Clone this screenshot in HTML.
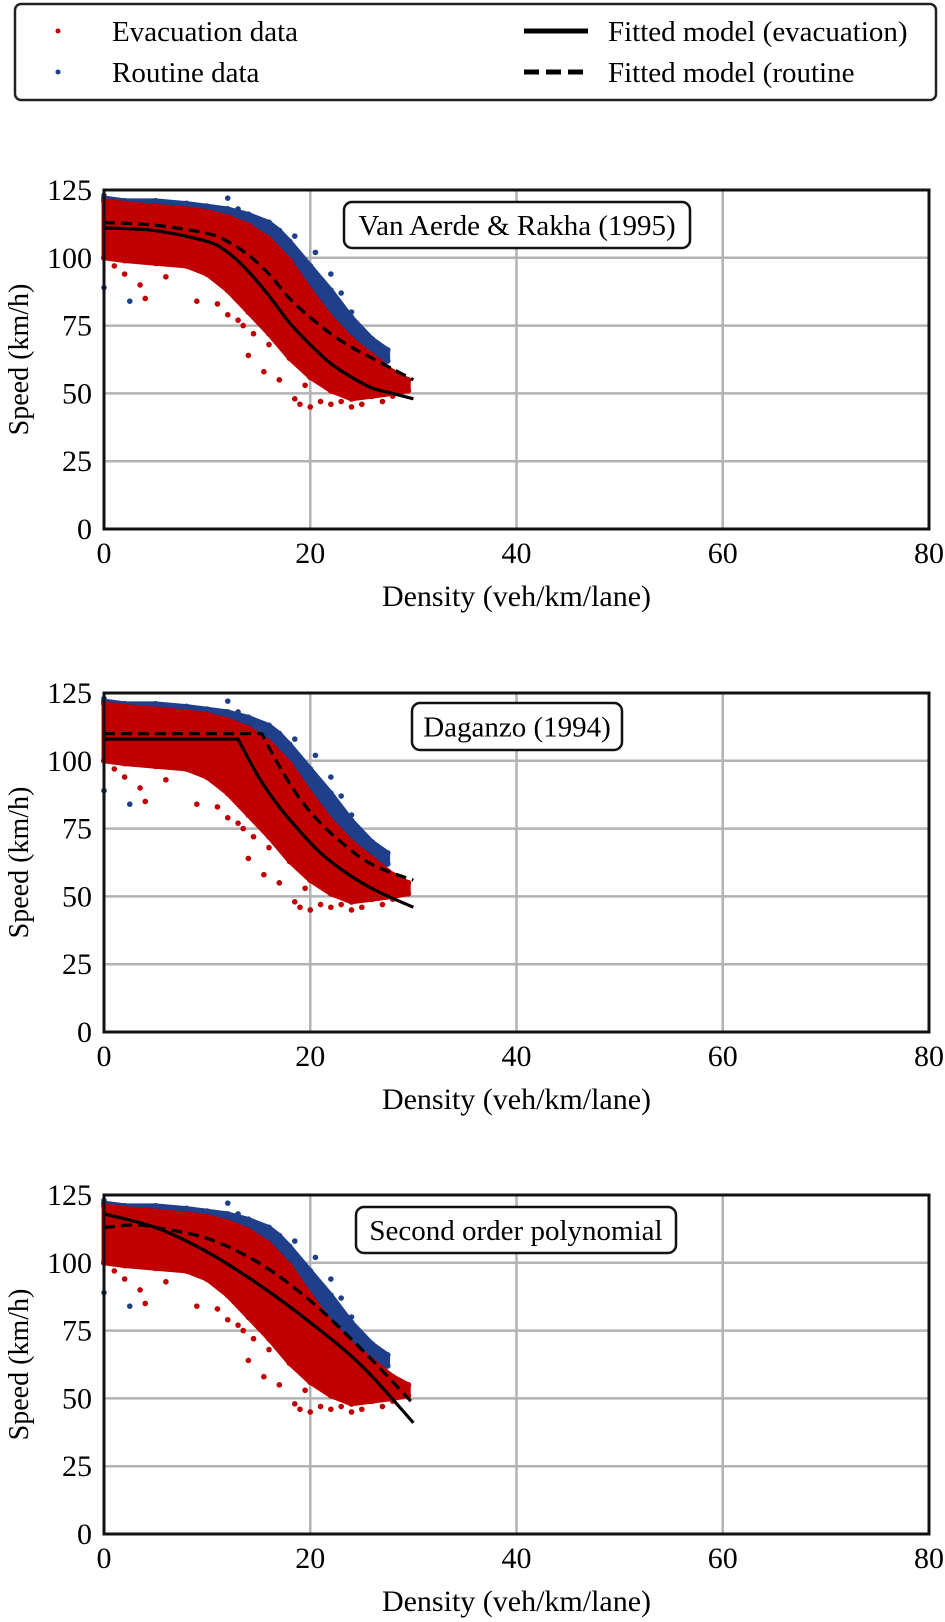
<!DOCTYPE html>
<html><head><meta charset="utf-8"><style>
html,body{margin:0;padding:0;background:#fff;}
svg{display:block;font-family:"Liberation Serif",serif;}
</style></head><body>
<svg id="fig" width="945" height="1622" viewBox="0 0 945 1622">
<g>
<rect x="15" y="4" width="921" height="96" rx="6" fill="#fff" stroke="#222" stroke-width="2.5"/>
<circle cx="58" cy="31" r="2.5" fill="#c00000"/>
<text x="112" y="41" font-size="29">Evacuation data</text>
<circle cx="58" cy="72" r="2.5" fill="#1f3f8a"/>
<text x="112" y="82" font-size="29">Routine data</text>
<line x1="524" y1="31" x2="588" y2="31" stroke="#000" stroke-width="5"/>
<text x="608" y="41" font-size="29">Fitted model (evacuation)</text>
<line x1="524" y1="72" x2="588" y2="72" stroke="#000" stroke-width="5" stroke-dasharray="15,7"/>
<text x="608" y="82" font-size="29">Fitted model (routine</text>
</g>
</svg>
<script>
// ---- data ----
const xTicks = [0, 20, 40, 60, 80];
const yTicks = [0, 25, 50, 75, 100, 125];
const panelTitles = ["Van Aerde & Rakha (1995)", "Daganzo (1994)", "Second order polynomial"];
// dense data envelopes (density, upper speed, lower speed)
const routineDensity = [0, 2, 5, 8, 10, 12, 14, 16, 17, 18, 20, 22, 24, 26, 27.5];
const routineUpper   = [122, 121, 121, 120, 119, 118, 116, 113, 110, 106, 97, 88, 78, 70, 66];
const routineLower   = [100, 100, 100, 100, 100, 98, 95, 90, 86, 82, 76, 70, 66, 63, 62];
const evacDensity = [0, 2, 5, 8, 10, 12, 14, 16, 18, 20, 22, 24, 26, 28, 29.5];
const evacUpper   = [121, 120, 119, 118, 117, 115, 112, 107, 99, 88, 78, 70, 64, 58, 55];
const evacLower   = [100, 99, 98, 97, 94, 88, 80, 72, 63, 56, 51, 48, 49, 50, 51];
// scattered outlier points
const evacOutX = [1,2,3.5,4,6,9,11,12,13,14,15.5,17,18,18.5,19,20,21,21.5,22,23,23.5,24,25,26,27,28,29,16,14.5,13.5,19.5,22.5,24.5,0.5,1.5];
const evacOutY = [97,94,90,85,93,84,83,79,77,64,58,55,63,48,46,45,47,58,46,47,49,45,46,51,47,49,52,68,72,75,53,56,52,104,101];
const routOutX = [0,2.5,8,12,18.5,20.5,23,24,25,22,13,0];
const routOutY = [89,84,103,122,108,102,87,80,66,94,118,123];
// fitted models
const fitDensity = [[0,5,10,12,14,16,18,20,22,24,26,28,30],[0,13,15,17,19,21,23,25,27,30],[0,5,10,15,20,25,30]];
const fitEvac = [[111,110,106,102,95,86,76,68,61,56,52,50,48],[108,108,94,83,74,66,60,55,51,46],[118,113,104,92,78,62,41]];
const fitRoutDensity = [[0,5,10,12,14,16,18,20,22,24,26,28,30],[0,15.3,17,19,21,23,25,27,30],[0,3,5,10,15,20,25,30]];
const fitRout = [[113,112,109,106,101,94,85,78,72,67,63,59,55],[110,110,98,86,77,70,64,60,56],[113,114,113,109,100,86,68,48]];

const NS = "http://www.w3.org/2000/svg";
const svg = document.getElementById('fig');
const panelTops = [190, 693, 1195];
const boxes = [[344,202,346,46],[412,703,210,47],[356,1207,320,46]];
const L = 104, R = 929, H = 339;
function mk(tag, attrs, parent) { const e = document.createElementNS(NS, tag); for (const k in attrs) e.setAttribute(k, attrs[k]); (parent||svg).appendChild(e); return e; }
function smooth(pts, sharpIdx) {
  let d = 'M' + pts[0][0] + ',' + pts[0][1];
  for (let i = 0; i < pts.length - 1; i++) {
    const p0 = pts[Math.max(i-1,0)], p1 = pts[i], p2 = pts[i+1], p3 = pts[Math.min(i+2, pts.length-1)];
    if (sharpIdx && i < sharpIdx) { d += 'L' + p2[0] + ',' + p2[1]; continue; }
    const q0 = (sharpIdx && i === sharpIdx) ? p1 : p0;
    const c1 = [p1[0] + (p2[0]-q0[0])/6, p1[1] + (p2[1]-q0[1])/6];
    const c2 = [p2[0] - (p3[0]-p1[0])/6, p2[1] - (p3[1]-p1[1])/6];
    d += 'C' + c1[0] + ',' + c1[1] + ' ' + c2[0] + ',' + c2[1] + ' ' + p2[0] + ',' + p2[1];
  }
  return d;
}

panelTops.forEach((top, p) => {
  const g = mk('g', {});
  
  
  const sx = v => L + (R - L) * v / 80;
  const sy = v => top + H - H * v / 125;
  xTicks.forEach(t => { const l = mk('line', {x1:sx(t),x2:sx(t),y1:top,y2:top+H,stroke:'#b3b3b3','stroke-width':2.5}, g);
      });
  yTicks.forEach(t => { const l = mk('line', {x1:L,x2:R,y1:sy(t),y2:sy(t),stroke:'#b3b3b3','stroke-width':2.5}, g);
      });
  function band(xs, up, lo, col, name) {
    let d = xs.map((x,i) => (i?'L':'M') + sx(x) + ',' + sy(up[i])).join('');
    for (let i = xs.length-1; i >= 0; i--) d += 'L' + sx(xs[i]) + ',' + sy(lo[i]);
    const e = mk('path', {d: d+'Z', fill: col, stroke: col, 'stroke-width': 5, 'stroke-linejoin': 'round'}, g);
     
    xs.forEach((x,i) => { [up[i], lo[i]].forEach(v => { const c = mk('circle', {cx:sx(x), cy:sy(v), r:3, fill:col}, g);
        }); });
  }
  band(routineDensity, routineUpper, routineLower, '#1f3f8a', 'routine-data');
  routOutX.forEach((x,i) => { const c = mk('circle', {cx:sx(x), cy:sy(routOutY[i]), r:2.8, fill:'#1f3f8a'}, g);
      });
  band(evacDensity, evacUpper, evacLower, '#c00000', 'evacuation-data');
  evacOutX.forEach((x,i) => { const c = mk('circle', {cx:sx(x), cy:sy(evacOutY[i]), r:2.8, fill:'#c00000'}, g);
      });
  const sharp = p === 1 ? 1 : 0;
  const de = smooth(fitDensity[p].map((x,i) => [sx(x), sy(fitEvac[p][i])]), sharp);
  const fe = mk('path', {d: de, fill:'none', stroke:'#000', 'stroke-width':3.2}, g);
   
  const dr = smooth(fitRoutDensity[p].map((x,i) => [sx(x), sy(fitRout[p][i])]), sharp);
  const fr = mk('path', {d: dr, fill:'none', stroke:'#000', 'stroke-width':3.2, 'stroke-dasharray':'11,6'}, g);
   
  const fr2 = mk('rect', {x:L, y:top, width:R-L, height:H, fill:'none', stroke:'#111', 'stroke-width':3}, g);
   
  xTicks.forEach(t => { const e = mk('text', {x:sx(t), y:top+H+34, 'font-size':30, 'text-anchor':'middle'}, g); e.textContent = t;
      });
  yTicks.forEach(t => { const e = mk('text', {x:L-12, y:sy(t)+10, 'font-size':30, 'text-anchor':'end'}, g); e.textContent = t;
      });
  const xt = mk('text', {x:(L+R)/2, y:top+H+77, 'font-size':30, 'text-anchor':'middle'}, g); xt.textContent = 'Density (veh/km/lane)';
   
  const yt = mk('text', {x:0, y:0, 'font-size':28, 'text-anchor':'middle', transform:'translate(28,' + (top+H/2) + ') rotate(-90)'}, g); yt.textContent = 'Speed (km/h)';
   
  const b = boxes[p];
  const br = mk('rect', {x:b[0], y:b[1], width:b[2], height:b[3], rx:8, fill:'#fff', stroke:'#111', 'stroke-width':2.5}, g);
   
  const bt = mk('text', {x:b[0]+b[2]/2, y:b[1]+b[3]/2+10, 'font-size':29, 'text-anchor':'middle'}, g); bt.textContent = panelTitles[p];
   
});
</script>
</body></html>
